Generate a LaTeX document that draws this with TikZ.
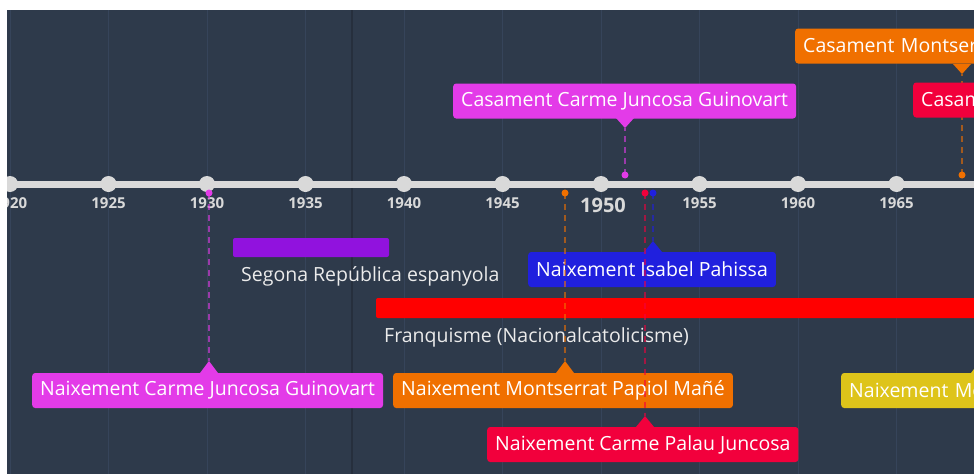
\documentclass[tikz,border=0pt]{standalone}
\usepackage{fontspec}
\setmainfont{Open Sans}
\usetikzlibrary{positioning}

\definecolor{bgblue}{HTML}{2E3A4B}
\definecolor{gridcol}{HTML}{36445A}
\definecolor{darkline}{HTML}{262F3D}
\definecolor{axiscol}{HTML}{D9D9D9}
\definecolor{pinkev}{HTML}{E33BE8}
\definecolor{orangeev}{HTML}{F07000}
\definecolor{crimsonev}{HTML}{F2003C}
\definecolor{blueev}{HTML}{2020DE}
\definecolor{yellowev}{HTML}{DEC41A}
\definecolor{purplebar}{HTML}{9112DE}
\definecolor{redbar}{HTML}{FF0000}

\begin{document}
\begin{tikzpicture}[x=1pt, y=-1pt,
    evbox/.style={rounded corners=3pt, text=white, anchor=west, inner xsep=8pt, inner ysep=0pt,
        minimum height=35pt, font=\fontsize{19.5}{20}\selectfont},
    link/.style={dashed, dash pattern=on 6pt off 5pt, line width=1.6pt, opacity=0.6},
    yearlbl/.style={text=axiscol, font=\fontsize{15}{16}\selectfont\bfseries},
    barlbl/.style={text=white!92!black, anchor=west, inner xsep=0pt, font=\fontsize{19.5}{20}\selectfont}]
        \useasboundingbox (0,0) rectangle (974,474);
        \fill[white] (0,0) rectangle (974,474);
        \fill[bgblue] (7,10) rectangle (974,474);
        \clip (7,10) rectangle (974,474);
        \foreach \yr in {1920,1925,...,1965}
            \draw[gridcol, line width=1pt] ({601+(\yr-1950)*19.7},10) -- ++(0,464);
        \draw[darkline, line width=1.5pt] (352,10) -- (352,474);
        % axis
        \draw[axiscol, line width=7pt] (7,184) -- (974,184);
        \foreach \yr in {1920,1925,...,1965}
            \fill[axiscol] ({601+(\yr-1950)*19.7},184) circle (8);
        \foreach \yr in {1920,1925,1930,1935,1940,1945,1955,1960,1965}
            \node[yearlbl] at ({601+(\yr-1950)*19.7},203) {\yr};
        \node[yearlbl, font=\fontsize{20}{20}\selectfont\bfseries] (y1950) at (603,205) {1950};
        % periods
        \fill[purplebar, rounded corners=2pt] (233,238) rectangle (389,257);
        \node[barlbl] (repub) at (241,276) {Segona República espanyola};
        \fill[redbar, rounded corners=2pt] (376,298) rectangle (990,318);
        \node[barlbl] (franq) at (384,337) {Franquisme (Nacionalcatolicisme)};
        % events above
        \node[evbox, fill=orangeev, minimum width=240pt, text width=224pt] (casMPM) at (795,46) {Casament Montserrat};
        \coordinate (tipMPM) at (962,74);
        \coordinate (dotMPM) at (962,175);
        \fill[orangeev] (tipMPM) -- ++(-9,-10) -- ++(18,0) -- cycle;
        \draw[link, orangeev] (dotMPM) -- (tipMPM);
        \fill[orangeev] (dotMPM) circle (3.5);
        \node[evbox, fill=crimsonev, minimum width=120pt, text width=104pt] (casCPJ) at (913,100) {Casament};
        \node[evbox, fill=pinkev] (casCJG) at (453,101) {Casament Carme Juncosa Guinovart};
        \coordinate (tipCJG) at (625,128);
        \coordinate (dotCJG) at (625,175);
        \fill[pinkev] (tipCJG) -- ++(-9,-10) -- ++(18,0) -- cycle;
        \draw[link, pinkev] (dotCJG) -- (tipCJG);
        \fill[pinkev] (dotCJG) circle (3.5);
        % events below
        \node[evbox, fill=blueev] (naiIP) at (528,269.5) {Naixement Isabel Pahissa};
        \coordinate (tipIP) at (653,241);
        \coordinate (dotIP) at (653,193);
        \fill[blueev] (tipIP) -- ++(-9,11) -- ++(18,0) -- cycle;
        \draw[link, blueev] (dotIP) -- (tipIP);
        \fill[blueev] (dotIP) circle (3.5);
        \node[evbox, fill=pinkev] (naiCJG) at (32,390.5) {Naixement Carme Juncosa Guinovart};
        \coordinate (tipCJGb) at (209,361);
        \coordinate (dotCJGb) at (209,193);
        \fill[pinkev] (tipCJGb) -- ++(-9,12) -- ++(18,0) -- cycle;
        \draw[link, pinkev] (dotCJGb) -- (tipCJGb);
        \fill[pinkev] (dotCJGb) circle (3.5);
        \node[evbox, fill=orangeev] (naiMPM) at (393,390.5) {Naixement Montserrat Papiol Mañé};
        \coordinate (tipMPMb) at (565,361);
        \coordinate (dotMPMb) at (565,193);
        \fill[orangeev] (tipMPMb) -- ++(-9,12) -- ++(18,0) -- cycle;
        \draw[link, orangeev] (dotMPMb) -- (tipMPMb);
        \fill[orangeev] (dotMPMb) circle (3.5);
        \node[evbox, fill=crimsonev] (naiCPJ) at (487,444.5) {Naixement Carme Palau Juncosa};
        \coordinate (tipCPJ) at (645,416);
        \coordinate (dotCPJ) at (645,193);
        \fill[crimsonev] (tipCPJ) -- ++(-9,11) -- ++(18,0) -- cycle;
        \draw[link, crimsonev] (dotCPJ) -- (tipCPJ);
        \fill[crimsonev] (dotCPJ) circle (3.5);
        \node[evbox, fill=yellowev, minimum width=200pt, text width=184pt] (naiMo) at (841,390.5) {Naixement Mo};
        \coordinate (tipMo) at (980,361);
        \fill[yellowev] (tipMo) -- ++(-9,12) -- ++(18,0) -- cycle;
\end{tikzpicture}
\end{document}
